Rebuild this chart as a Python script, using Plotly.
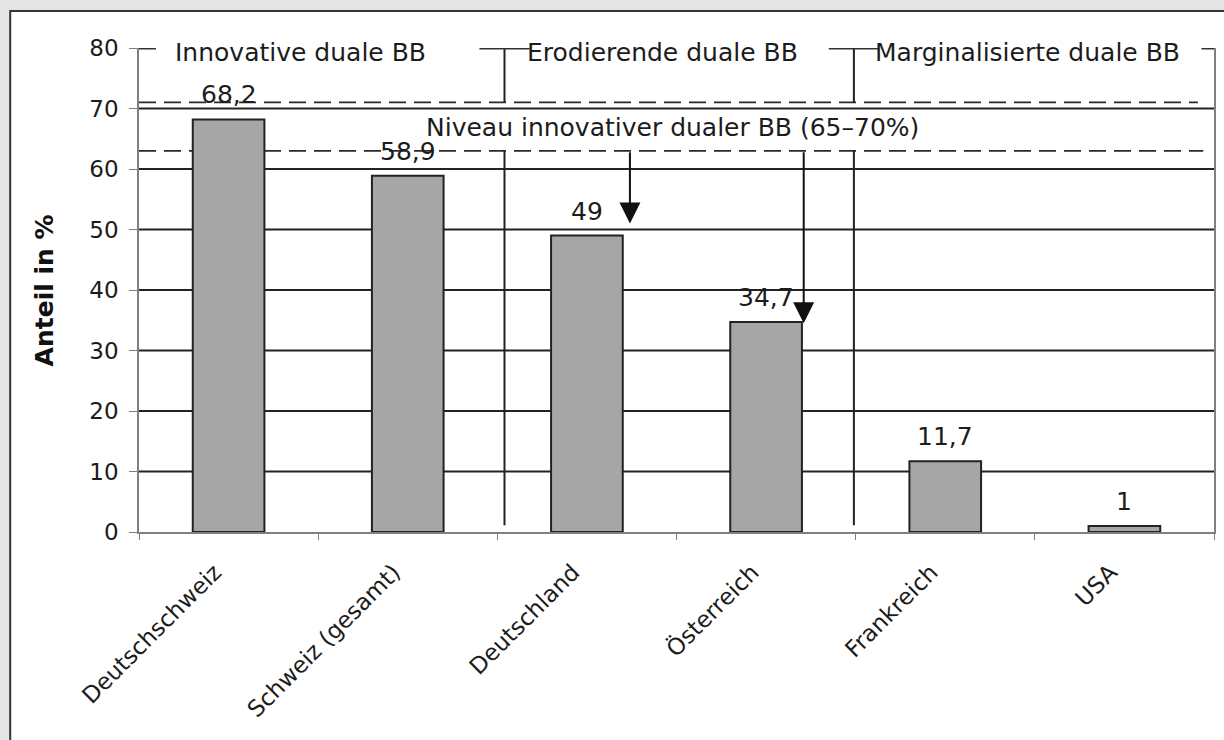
import plotly.graph_objects as go

# Anteil dualer Berufsbildung nach Land (in %)
categories = ["Deutschschweiz", "Schweiz (gesamt)", "Deutschland",
              "Österreich", "Frankreich", "USA"]
shares = [68.2, 58.9, 49, 34.7, 11.7, 1]

y_ticks = [0, 10, 20, 30, 40, 50, 60, 70, 80]
grid_values = [10, 20, 30, 40, 50, 60, 70]

# Bandbreite innovativer dualer BB (gestrichelte Linien)
level_upper = 71
level_lower = 63
level_label = "Niveau innovativer dualer BB (65–70%)"

# Gruppen-Überschriften und ihre Trennlinien (Kategorie-Koordinaten)
group_labels = ["Innovative duale BB", "Erodierende duale BB", "Marginalisierte duale BB"]
group_label_x = [0.40, 2.42, 4.46]
group_dividers = [1.54, 3.49]

# Pfeile von der unteren Niveaulinie zu den Balken
arrow_x = [2.24, 3.21]
arrow_tip_y = [51, 34.5]

FONT = "DejaVu Sans, Verdana, sans-serif"
DARK = "#1c1c1c"
LINE = "#222222"
AXIS = "#808080"
TICK_SIZE = 23
TEXT_SIZE = 25

fig = go.Figure()
fig.add_trace(go.Bar(
    x=categories, y=shares, width=0.4,
    marker=dict(color="#a6a6a6", line=dict(color=LINE, width=2)),
    hoverinfo="skip",
))

shapes = []
annotations = []

# weisses Panel mit Rahmen
shapes.append(dict(type="rect", xref="paper", yref="paper",
                   x0=-0.1198, x1=1.2, y0=-0.6, y1=1.0764,
                   fillcolor="white", line=dict(color="#333333", width=2),
                   layer="below"))

# Gitterlinien
for g in grid_values:
    shapes.append(dict(type="line", xref="x", yref="y", x0=-0.5, x1=5.5, y0=g, y1=g,
                       line=dict(color=LINE, width=2), layer="below"))

# gestrichelte Niveaulinien
for lv, xe in ((level_upper, 5.41), (level_lower, 5.44)):
    shapes.append(dict(type="line", xref="x", yref="y", x0=-0.5, x1=xe, y0=lv, y1=lv,
                       line=dict(color="#2a2a2a", width=1.8, dash="17px,8px"),
                       layer="below"))

# Trennlinien der Gruppen (unterbrochen im Bereich der Niveau-Beschriftung)
for xd in group_dividers:
    shapes.append(dict(type="line", xref="x", yref="y", x0=xd, x1=xd, y0=80, y1=level_upper,
                       line=dict(color=LINE, width=2)))
    shapes.append(dict(type="line", xref="x", yref="y", x0=xd, x1=xd, y0=level_lower, y1=1.1,
                       line=dict(color=LINE, width=2)))
    shapes.append(dict(type="line", xref="x", yref="y", x0=xd - 0.14, x1=xd + 0.14, y0=80, y1=80,
                       line=dict(color="#333333", width=3)))

# Klammer-Enden links und rechts
shapes.append(dict(type="line", xref="x", yref="y", x0=-0.5, x1=-0.405, y0=80, y1=80,
                   line=dict(color="#333333", width=3)))
shapes.append(dict(type="line", xref="x", yref="y", x0=5.43, x1=5.5, y0=80, y1=80,
                   line=dict(color="#333333", width=3)))

# Wertebeschriftungen
for c, v in zip(categories, shares):
    annotations.append(dict(x=c, y=v, xref="x", yref="y", yanchor="bottom",
                            yshift=8, showarrow=False,
                            text=f"{v:g}".replace(".", ","),
                            font=dict(family=FONT, size=TEXT_SIZE, color=DARK)))

# Gruppenüberschriften
for t, xg in zip(group_labels, group_label_x):
    annotations.append(dict(x=xg, y=79.3, xref="x", yref="y", showarrow=False,
                            text=t, font=dict(family=FONT, size=TEXT_SIZE, color=DARK)))

annotations.append(dict(x=2.48, y=66.8, xref="x", yref="y", showarrow=False,
                        text=level_label, font=dict(family=FONT, size=TEXT_SIZE, color=DARK)))

# Pfeile
for xa, ya in zip(arrow_x, arrow_tip_y):
    annotations.append(dict(x=xa, y=ya, xref="x", yref="y", ax=xa, ay=level_lower,
                            axref="x", ayref="y", text="", showarrow=True,
                            arrowhead=2, arrowsize=2.1, arrowwidth=2, arrowcolor="#111111",
                            standoff=0))

# Achsentitel
annotations.append(dict(x=-0.088, y=0.5, xref="paper", yref="paper", showarrow=False,
                        xanchor="center", yanchor="middle",
                        text="<b>Anteil in %</b>", textangle=-90,
                        font=dict(family=FONT, size=TEXT_SIZE, color="#111111")))

fig.update_layout(
    width=1224, height=740,
    margin=dict(l=139, r=8, t=48, b=208),
    paper_bgcolor="#e4e5e7",
    plot_bgcolor="rgba(0,0,0,0)",
    showlegend=False,
    bargap=0.6,
    shapes=shapes,
    annotations=annotations,
    font=dict(family=FONT, size=TICK_SIZE, color=DARK),
)
fig.update_xaxes(
    type="category", range=[-0.5, 5.5], tickson="boundaries",
    ticks="outside", ticklen=6, tickcolor=AXIS, tickwidth=1,
    showline=True, linecolor=AXIS, linewidth=1.5,
    showgrid=False, tickangle=-45,
    ticklabelstandoff=16, ticklabelshift=-14,
    tickfont=dict(family=FONT, size=TICK_SIZE, color=DARK),
)
fig.update_yaxes(
    range=[0, 80], tickvals=y_ticks,
    ticks="outside", ticklen=8, tickcolor=AXIS, tickwidth=1,
    showline=True, linecolor=AXIS, linewidth=1.5, mirror=True,
    showgrid=False, zeroline=False, ticklabelstandoff=6,
    tickfont=dict(family=FONT, size=TICK_SIZE, color=DARK),
)

fig.write_html("out.html")
